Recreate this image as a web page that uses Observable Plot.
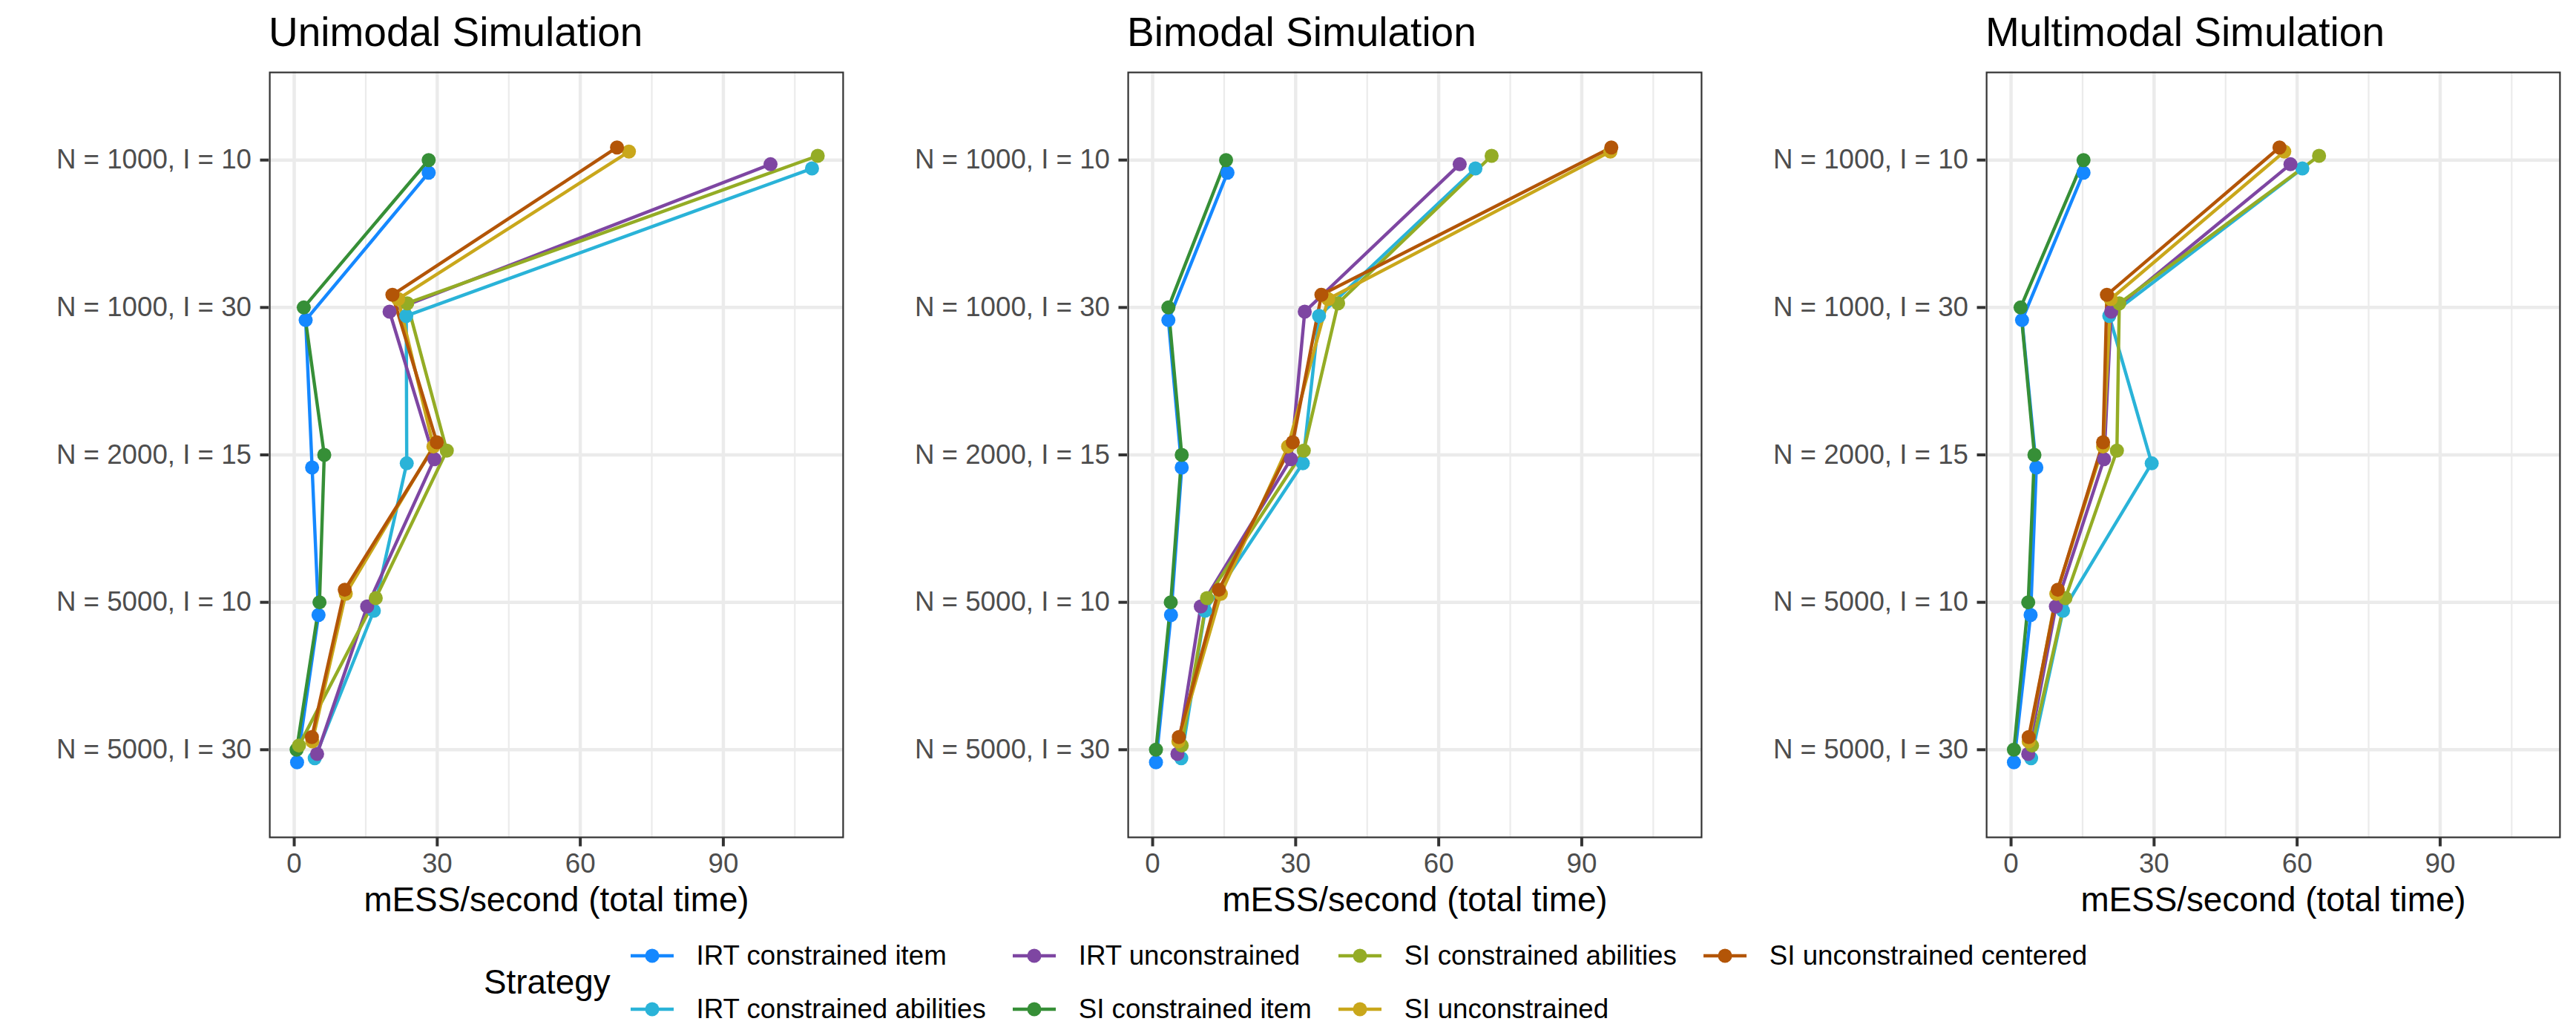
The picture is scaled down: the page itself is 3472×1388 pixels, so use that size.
<!DOCTYPE html>
<html>
<head>
<meta charset="utf-8">
<script src="https://cdn.jsdelivr.net/npm/d3@7"></script>
<script src="https://cdn.jsdelivr.net/npm/@observablehq/plot@0.6"></script>
<style>
html, body { margin: 0; padding: 0; background: #ffffff; }
body { width: 3472px; height: 1388px; overflow: hidden; position: relative;
       font-family: "Liberation Sans", Arial, Helvetica, sans-serif; }
.panel { position: absolute; top: 0; width: 1157px; height: 1250px; }
.panel svg { position: absolute; left: 0; top: 0; }
.ptitle { position: absolute; left: 362px; top: 16px; font-size: 55px; line-height: 55px;
          color: #000; white-space: nowrap; z-index: 2; }
.legend { position: absolute; left: 652px; top: 1252px; display: flex; align-items: center; }
.ltitle { font-size: 45.8px; color: #000; margin-right: 27px; white-space: nowrap; }
.litems { display: grid; grid-template-rows: 72px 72px; grid-auto-flow: column; column-gap: 36px; }
.litem { display: flex; align-items: center; height: 72px; }
.litem span { margin-left: 31px; font-size: 36.7px; color: #000; white-space: nowrap; }
</style>
</head>
<body>
<script>
// ---------- data ----------
const categories = ["N = 1000, I = 10", "N = 1000, I = 30", "N = 2000, I = 15", "N = 5000, I = 10", "N = 5000, I = 30"];
const strategies = ["IRT constrained item", "IRT constrained abilities", "IRT unconstrained",
                    "SI constrained item", "SI constrained abilities", "SI unconstrained",
                    "SI unconstrained centered"];
const strategyColors = ["#1588FF", "#2AB3D8", "#7E46A2", "#368F37", "#94AC25", "#C9A71B", "#B35507"];
const panelTitles = ["Unimodal Simulation", "Bimodal Simulation", "Multimodal Simulation"];

// mESS/second (total time), one row per strategy (order as strategies), one column per category
const unimodalValues = [
  [28.2, 2.4, 3.75, 5.1, 0.6],
  [108.6, 23.5, 23.6, 16.7, 4.3],
  [99.9, 20.0, 29.4, 15.3, 4.8],
  [28.2, 2.0, 6.3, 5.3, 0.5],
  [109.8, 23.7, 32.0, 17.1, 1.0],
  [70.2, 21.8, 29.2, 10.8, 3.8],
  [67.7, 20.6, 29.9, 10.6, 3.7]
];
const bimodalValues = [
  [15.7, 3.3, 6.1, 3.85, 0.7],
  [67.7, 34.9, 31.5, 11.0, 6.0],
  [64.4, 31.9, 29.0, 10.1, 5.2],
  [15.4, 3.3, 6.1, 3.8, 0.7],
  [71.1, 38.9, 31.7, 11.4, 6.1],
  [96.0, 36.8, 28.4, 14.3, 5.4],
  [96.2, 35.4, 29.4, 13.9, 5.5]
];
const multimodalValues = [
  [15.2, 2.3, 5.3, 4.1, 0.6],
  [61.1, 20.6, 29.5, 10.9, 4.2],
  [58.6, 21.0, 19.5, 9.4, 3.6],
  [15.2, 2.0, 4.9, 3.6, 0.6],
  [64.6, 22.7, 22.2, 11.4, 4.4],
  [57.3, 20.9, 19.3, 9.5, 3.7],
  [56.3, 20.1, 19.3, 9.8, 3.7]
];
const xTicks = [0, 30, 60, 90];
const xMinorTicks = [15, 45, 75, 105];
const xDomain = [-5.3, 115.3];
const xLabel = "mESS/second (total time)";
const legendTitle = "Strategy";
const dodgeWidth = 0.2;

// ---------- build ----------
const panelValues = [unimodalValues, bimodalValues, multimodalValues];
const catIndex = categories.map((c, i) => i);
const FONT = '"Liberation Sans", Arial, Helvetica, sans-serif';
const mid = (strategies.length - 1) / 2;

panelValues.forEach((vals, p) => {
  const rows = [];
  strategies.forEach((s, i) => {
    categories.forEach((c, j) => {
      rows.push({
        strategy: s,
        value: vals[i][j],
        pos: j + (mid - i) * dodgeWidth / strategies.length
      });
    });
  });

  const chart = Plot.plot({
    width: 1157,
    height: 1250,
    marginLeft: 362,
    marginRight: 20,
    marginTop: 96,
    marginBottom: 121,
    style: { fontFamily: FONT, background: "transparent", overflow: "visible" },
    x: { domain: xDomain, axis: null },
    y: { domain: [categories.length - 1 + 0.6, -0.6], axis: null },
    color: { domain: strategies, range: strategyColors },
    marks: [
      Plot.ruleX(xMinorTicks, { stroke: "#EBEBEB", strokeWidth: 2.2 }),
      Plot.ruleX(xTicks, { stroke: "#EBEBEB", strokeWidth: 4.45 }),
      Plot.ruleY(catIndex, { stroke: "#EBEBEB", strokeWidth: 4.45 }),
      Plot.line(rows, { x: "value", y: "pos", z: "strategy", stroke: "strategy",
                        strokeWidth: 4.45, strokeLinecap: "butt", strokeLinejoin: "round" }),
      Plot.dot(rows, { x: "value", y: "pos", fill: "strategy", r: 9.5, stroke: null }),
      Plot.frame({ stroke: "#333333", strokeWidth: 2.2, inset: 1.1 }),
      Plot.axisX({ ticks: xTicks, tickSize: 11.5, tickPadding: 9.2, fontSize: 36.7,
                   fill: "#4D4D4D", stroke: "#333333", strokeWidth: 4, label: null }),
      Plot.axisY({ ticks: catIndex, tickFormat: (i) => categories[i], tickSize: 11.5,
                   tickPadding: 12, fontSize: 36.7, fill: "#4D4D4D", stroke: "#333333",
                   strokeWidth: 4, label: null }),
      Plot.text([xLabel], { text: (d) => d, frameAnchor: "bottom", dy: 98, fontSize: 45.8,
                            fill: "#000000" })
    ]
  });

  const div = document.createElement("div");
  div.className = "panel";
  div.style.left = (p * 1157) + "px";
  div.appendChild(chart);
  const t = document.createElement("div");
  t.className = "ptitle";
  t.textContent = panelTitles[p];
  div.appendChild(t);
  document.body.appendChild(div);
});

// ---------- legend ----------
const legend = document.createElement("div");
legend.className = "legend";
const lt = document.createElement("div");
lt.className = "ltitle";
lt.textContent = legendTitle;
legend.appendChild(lt);
const items = document.createElement("div");
items.className = "litems";
strategies.forEach((s, i) => {
  const it = document.createElement("div");
  it.className = "litem";
  const svg = d3.create("svg").attr("width", 58).attr("height", 72);
  svg.append("line").attr("x1", 0).attr("x2", 58).attr("y1", 36).attr("y2", 36)
     .attr("stroke", strategyColors[i]).attr("stroke-width", 4.45);
  svg.append("circle").attr("cx", 29).attr("cy", 36).attr("r", 9.5).attr("fill", strategyColors[i]);
  it.appendChild(svg.node());
  const sp = document.createElement("span");
  sp.textContent = s;
  it.appendChild(sp);
  items.appendChild(it);
});
legend.appendChild(items);
document.body.appendChild(legend);
</script>
</body>
</html>
